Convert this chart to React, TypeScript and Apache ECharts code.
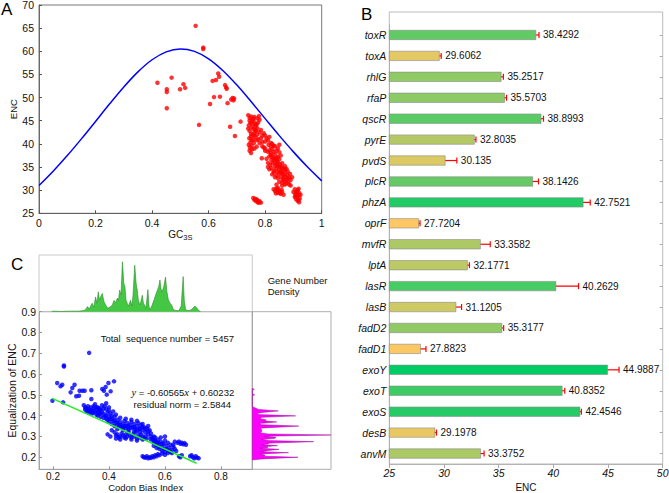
import React, { useEffect, useRef } from 'react';
import * as echarts from 'echarts';

const FONT = 'Liberation Sans, Arial, Helvetica, sans-serif';

// ---------- Panel A ----------
const curveGC3s = [0, 0.05, 0.1, 0.15, 0.2, 0.25, 0.3, 0.35, 0.4, 0.45, 0.5, 0.55, 0.6, 0.65, 0.7, 0.75, 0.8, 0.85, 0.9, 0.95, 1];
const curveENC = [31, 34.09, 37.47, 41.08, 44.85, 48.65, 52.3, 55.56, 58.17, 59.88, 60.5, 59.98, 58.37, 55.86, 52.7, 49.15, 45.45, 41.78, 38.27, 34.99, 32];

const gc3sEncPoints = [
  [0.419, 53.2], [0.469, 54.3], [0.452, 51.8], [0.452, 51.2], [0.452, 47.7], [0.499, 51.8], [0.511, 52.9], [0.517, 52.1],
  [0.554, 65.5], [0.566, 44.1], [0.581, 60.8], [0.581, 60.5], [0.605, 48.6], [0.614, 53.6], [0.626, 53.8], [0.619, 50.1],
  [0.634, 55.2], [0.637, 54.5], [0.64, 50.2], [0.658, 52.7], [0.662, 52.2], [0.664, 51.9], [0.667, 48.8], [0.676, 43.7],
  [0.68, 49.6], [0.685, 49.9], [0.688, 49.4], [0.69, 49.8], [0.693, 41.7], [0.713, 44.8],
  [0.74, 46.2], [0.745, 45.6], [0.75, 45.9], [0.755, 45.1], [0.76, 44.8], [0.748, 44.5], [0.742, 44.0], [0.752, 43.6],
  [0.758, 43.2], [0.765, 43.8], [0.77, 44.2], [0.775, 44.6], [0.78, 45.2], [0.778, 46.0], [0.772, 45.5], [0.768, 42.8],
  [0.762, 42.4], [0.756, 42.0], [0.75, 41.6], [0.745, 42.8], [0.74, 43.3], [0.772, 42.0], [0.78, 42.5], [0.785, 43.0],
  [0.79, 41.8], [0.785, 41.2], [0.776, 41.0], [0.766, 41.5], [0.758, 40.9], [0.748, 40.3], [0.742, 39.8], [0.746, 39.2],
  [0.752, 39.6], [0.76, 40.2], [0.754, 38.8], [0.762, 39.0], [0.77, 39.4], [0.745, 38.5], [0.75, 38.0], [0.788, 36.9],
  [0.795, 42.3], [0.8, 41.8], [0.805, 41.2], [0.81, 40.8], [0.815, 41.5], [0.82, 40.2], [0.8, 40.5], [0.812, 39.8],
  [0.825, 40.0], [0.79, 40.4], [0.83, 39.6],
  [0.815, 38.6], [0.82, 38.0], [0.825, 38.9], [0.83, 38.3], [0.835, 37.7], [0.84, 38.5], [0.845, 39.0], [0.85, 38.2],
  [0.845, 37.2], [0.838, 36.8], [0.83, 37.0], [0.822, 36.5], [0.815, 37.3], [0.81, 35.9], [0.818, 35.5], [0.826, 35.8],
  [0.834, 36.0], [0.842, 36.3], [0.85, 36.7], [0.855, 37.5], [0.82, 39.4], [0.835, 39.5], [0.85, 39.8], [0.805, 36.8],
  [0.81, 35.0], [0.815, 34.5], [0.822, 34.8], [0.83, 34.2], [0.838, 34.6], [0.845, 35.2], [0.852, 35.6], [0.858, 35.0],
  [0.865, 34.3], [0.87, 33.8], [0.862, 33.5], [0.855, 34.0], [0.848, 33.6], [0.84, 33.2], [0.835, 32.8], [0.845, 32.6],
  [0.855, 32.9], [0.865, 32.5], [0.872, 32.9], [0.878, 33.3], [0.885, 32.7], [0.89, 32.2], [0.882, 31.8], [0.875, 31.5],
  [0.868, 31.9], [0.86, 31.6], [0.85, 31.8], [0.83, 33.8], [0.825, 33.4], [0.86, 35.8], [0.87, 35.2], [0.876, 34.6],
  [0.88, 34.0], [0.87, 34.6], [0.842, 34.0], [0.85, 34.4], [0.895, 32.8], [0.888, 33.5], [0.86, 31.0], [0.84, 31.2],
  [0.83, 30.2], [0.835, 29.8], [0.84, 30.4], [0.845, 29.5], [0.85, 29.9], [0.855, 29.2], [0.86, 29.6], [0.865, 29.0],
  [0.845, 30.5], [0.858, 30.1], [0.838, 29.3],
  [0.905, 30.2], [0.91, 29.7], [0.915, 30.0], [0.92, 29.4], [0.908, 29.1], [0.912, 28.6], [0.918, 28.9], [0.922, 28.2],
  [0.91, 28.0], [0.915, 27.7], [0.92, 27.4], [0.905, 28.5], [0.925, 29.0], [0.9, 29.6], [0.918, 30.3],
  [0.758, 28.3], [0.762, 27.9], [0.768, 27.6], [0.772, 27.8], [0.778, 27.4], [0.785, 27.3], [0.765, 28.1], [0.775, 27.3],
  [0.745, 45.0], [0.755, 44.3], [0.765, 43.0], [0.75, 42.2], [0.76, 41.8], [0.77, 40.8], [0.78, 40.2], [0.79, 39.5],
  [0.8, 39.0], [0.81, 38.3], [0.82, 37.6], [0.83, 36.5], [0.84, 35.5], [0.85, 35.0], [0.86, 34.8], [0.865, 33.2],
  [0.875, 32.2], [0.88, 32.6], [0.885, 31.2], [0.89, 31.0], [0.84, 36.9], [0.825, 37.2], [0.835, 35.2], [0.845, 36.0],
  [0.855, 33.8], [0.862, 32.3], [0.87, 31.2], [0.8, 38.5], [0.795, 39.2], [0.758, 45.5], [0.766, 44.2], [0.762, 45.8],
  [0.772, 43.4], [0.752, 40.8], [0.744, 41.2], [0.912, 29.4], [0.907, 28.8], [0.918, 27.9], [0.85, 29.4], [0.843, 30.0],
  [0.77, 28.0], [0.78, 27.6],
];

// ---------- Panel B ----------
const genes = ['toxR', 'toxA', 'rhlG', 'rfaP', 'qscR', 'pyrE', 'pvdS', 'plcR', 'phzA', 'oprF', 'mvfR', 'lptA', 'lasR', 'lasB', 'fadD2', 'fadD1', 'exoY', 'exoT', 'exoS', 'desB', 'anvM'];
const encValues = [38.4292, 29.6062, 35.2517, 35.5703, 38.8993, 32.8035, 30.135, 38.1426, 42.7521, 27.7204, 33.3582, 32.1771, 40.2629, 31.1205, 35.3177, 27.8823, 44.9887, 40.8352, 42.4546, 29.1978, 33.3752];
const encErr = [0.26, 0.14, 0.18, 0.15, 0.2, 0.12, 1.04, 0.5, 0.62, 0.09, 0.87, 0.15, 2.04, 0.49, 0.14, 0.47, 1.02, 0.21, 0.11, 0.12, 0.29];

// ---------- Panel C ----------
const cbiEncPoints = [
  [0.329, 0.702], [0.239, 0.641], [0.239, 0.636], [0.198, 0.472], [0.215, 0.557], [0.227, 0.541], [0.233, 0.549], [0.236, 0.464],
  [0.263, 0.512], [0.269, 0.533], [0.277, 0.549], [0.283, 0.493], [0.293, 0.496], [0.295, 0.52], [0.305, 0.52], [0.313, 0.52],
  [0.337, 0.522], [0.337, 0.48], [0.376, 0.528], [0.382, 0.52], [0.388, 0.538], [0.398, 0.557], [0.418, 0.565], [0.392, 0.501], [0.406, 0.517],
  [0.31, 0.45], [0.315, 0.44], [0.32, 0.435], [0.325, 0.445], [0.33, 0.43], [0.335, 0.44], [0.34, 0.425], [0.345, 0.435],
  [0.35, 0.42], [0.355, 0.43], [0.36, 0.415], [0.365, 0.425], [0.37, 0.41], [0.375, 0.42], [0.38, 0.435], [0.385, 0.445],
  [0.39, 0.43], [0.395, 0.415], [0.4, 0.425], [0.405, 0.41], [0.41, 0.4], [0.415, 0.42], [0.42, 0.395], [0.425, 0.405],
  [0.34, 0.41], [0.355, 0.405], [0.37, 0.395], [0.385, 0.4], [0.32, 0.42], [0.36, 0.44], [0.375, 0.45], [0.39, 0.46],
  [0.33, 0.415], [0.4, 0.44], [0.35, 0.455],
  [0.395, 0.38], [0.4, 0.37], [0.405, 0.385], [0.41, 0.36], [0.415, 0.375], [0.42, 0.35], [0.425, 0.365], [0.43, 0.38],
  [0.435, 0.355], [0.44, 0.37], [0.445, 0.345], [0.45, 0.36], [0.455, 0.375], [0.46, 0.35], [0.465, 0.365], [0.47, 0.34],
  [0.475, 0.355], [0.48, 0.37], [0.485, 0.345], [0.49, 0.36], [0.495, 0.335], [0.5, 0.35], [0.505, 0.365], [0.51, 0.34],
  [0.515, 0.355], [0.52, 0.33], [0.525, 0.345], [0.53, 0.32], [0.535, 0.34], [0.54, 0.31], [0.42, 0.32], [0.425, 0.305],
  [0.43, 0.31], [0.435, 0.295], [0.44, 0.3], [0.445, 0.315], [0.45, 0.305], [0.455, 0.295], [0.46, 0.31], [0.465, 0.3],
  [0.47, 0.32], [0.475, 0.305], [0.48, 0.295], [0.485, 0.31], [0.49, 0.3], [0.495, 0.32], [0.5, 0.29], [0.505, 0.305],
  [0.51, 0.295], [0.515, 0.31], [0.52, 0.3], [0.525, 0.29], [0.53, 0.3], [0.41, 0.33], [0.43, 0.335], [0.45, 0.33],
  [0.47, 0.33], [0.49, 0.325], [0.51, 0.32], [0.44, 0.39], [0.46, 0.385], [0.48, 0.38], [0.5, 0.375], [0.52, 0.36],
  [0.54, 0.35], [0.545, 0.33], [0.395, 0.31], [0.405, 0.3], [0.55, 0.3],
  [0.555, 0.29], [0.56, 0.28], [0.565, 0.295], [0.57, 0.27], [0.575, 0.285], [0.58, 0.26], [0.585, 0.275], [0.59, 0.25],
  [0.595, 0.265], [0.6, 0.28], [0.605, 0.255], [0.61, 0.27], [0.615, 0.245], [0.62, 0.26], [0.625, 0.235], [0.63, 0.25],
  [0.635, 0.24], [0.58, 0.24], [0.59, 0.23], [0.6, 0.225], [0.61, 0.235], [0.62, 0.225], [0.57, 0.245], [0.56, 0.255],
  [0.6, 0.3], [0.585, 0.295], [0.64, 0.23],
  [0.635, 0.275], [0.645, 0.27], [0.65, 0.275], [0.655, 0.265], [0.66, 0.27], [0.665, 0.262], [0.67, 0.268], [0.675, 0.26],
  [0.52, 0.205], [0.525, 0.2], [0.53, 0.198], [0.535, 0.205], [0.54, 0.195], [0.545, 0.2], [0.55, 0.197], [0.555, 0.205],
  [0.56, 0.2], [0.565, 0.21], [0.57, 0.205],
  [0.575, 0.215], [0.58, 0.21], [0.59, 0.218], [0.6, 0.212], [0.61, 0.22],
  [0.65, 0.205], [0.655, 0.2], [0.66, 0.21], [0.69, 0.205], [0.7, 0.2], [0.705, 0.195], [0.71, 0.205], [0.715, 0.198],
  [0.72, 0.195], [0.695, 0.21],
  [0.315, 0.43], [0.325, 0.425], [0.335, 0.42], [0.345, 0.415], [0.36, 0.4], [0.365, 0.41], [0.38, 0.39], [0.39, 0.385],
  [0.4, 0.395], [0.41, 0.385], [0.42, 0.375], [0.43, 0.365], [0.435, 0.345], [0.44, 0.355], [0.45, 0.345], [0.455, 0.35],
  [0.46, 0.34], [0.47, 0.35], [0.48, 0.34], [0.49, 0.345], [0.5, 0.33], [0.51, 0.335], [0.52, 0.345], [0.53, 0.335],
  [0.54, 0.325], [0.425, 0.29], [0.44, 0.285], [0.46, 0.29], [0.48, 0.285], [0.5, 0.28], [0.52, 0.285], [0.535, 0.29],
  [0.55, 0.285], [0.56, 0.27], [0.57, 0.26], [0.58, 0.25], [0.595, 0.24], [0.605, 0.24], [0.615, 0.23], [0.625, 0.22],
  [0.63, 0.26], [0.55, 0.315], [0.56, 0.3], [0.565, 0.28], [0.575, 0.27], [0.59, 0.265], [0.345, 0.445], [0.355, 0.44],
  [0.365, 0.435], [0.37, 0.43], [0.38, 0.41], [0.39, 0.4],
];
const fitLineX = [0.197, 0.713];
const fitLineY = [0.483, 0.171];

const cbiDensity = [
  [0.195, 0], [0.2, 0.01], [0.23, 0.005], [0.26, 0.01], [0.29, 0.01], [0.31, 0.02], [0.317, 0.04], [0.323, 0.09],
  [0.33, 0.05], [0.34, 0.15], [0.346, 0.08], [0.352, 0.26], [0.357, 0.15], [0.362, 0.35], [0.366, 0.2], [0.37, 0.26],
  [0.376, 0.32], [0.382, 0.18], [0.388, 0.12], [0.396, 0.06], [0.406, 0.09], [0.412, 0.12], [0.418, 0.2], [0.424, 0.16],
  [0.43, 0.24], [0.434, 0.2], [0.438, 0.38], [0.443, 0.3], [0.448, 0.88], [0.453, 0.5], [0.457, 0.44], [0.461, 0.2],
  [0.465, 0.15], [0.47, 0.1], [0.477, 0.2], [0.482, 0.1], [0.486, 0.3], [0.492, 0.82], [0.497, 0.5], [0.501, 0.38],
  [0.505, 0.2], [0.51, 0.12], [0.514, 0.18], [0.519, 0.29], [0.523, 0.15], [0.527, 0.12], [0.532, 0.06], [0.539, 0.39],
  [0.543, 0.1], [0.546, 0.03], [0.553, 0.1], [0.561, 0.21], [0.567, 0.3], [0.573, 0.38], [0.578, 0.45], [0.582, 0.56],
  [0.586, 0.4], [0.59, 0.35], [0.596, 0.45], [0.602, 0.61], [0.607, 0.35], [0.612, 0.21], [0.618, 0.15], [0.624, 0.12],
  [0.628, 0.06], [0.632, 0.03], [0.64, 0.02], [0.65, 0.02], [0.658, 0.1], [0.665, 0.62], [0.669, 0.2], [0.674, 0.03],
  [0.685, 0.02], [0.692, 0.03], [0.7, 0.06], [0.707, 0.1], [0.713, 0.07], [0.719, 0.03], [0.727, 0],
];

// [ENC equalization, relative density]
const encDensity = [
  [0.187, 0], [0.192, 0.12], [0.2, 0.58], [0.205, 0.15], [0.211, 0.16], [0.216, 0.1], [0.222, 0.46], [0.227, 0.12],
  [0.232, 0.2], [0.238, 0.34], [0.243, 0.1], [0.247, 0.2], [0.251, 0.16], [0.256, 0.32], [0.26, 0.12], [0.264, 0.2],
  [0.268, 0.22], [0.275, 0.78], [0.28, 0.2], [0.285, 0.12], [0.291, 0.29], [0.296, 0.3], [0.301, 0.15], [0.307, 1.0],
  [0.312, 0.2], [0.318, 0.1], [0.324, 0.12], [0.332, 0.12], [0.34, 0.1], [0.35, 0.59], [0.356, 0.12], [0.362, 0.08],
  [0.37, 0.31], [0.375, 0.14], [0.379, 0.18], [0.385, 0.1], [0.392, 0.12], [0.399, 0.55], [0.405, 0.08], [0.41, 0.06],
  [0.415, 0.12], [0.423, 0.33], [0.43, 0.08], [0.437, 0.04], [0.443, 0], [0.496, 0], [0.5, 0.03], [0.504, 0],
  [0.523, 0], [0.527, 0.025], [0.531, 0],
];

const cTicksX = [0.2, 0.4, 0.6, 0.8];
const cTicksY = [0.2, 0.3, 0.4, 0.5, 0.6, 0.7, 0.8, 0.9];

const hidden = {
  axisLine: { show: false },
  axisTick: { show: false },
  axisLabel: { show: false },
  splitLine: { show: false },
};

export default function App() {
  const ref = useRef<HTMLDivElement>(null);

  useEffect(() => {
    if (!ref.current) return;
    const chart = echarts.init(ref.current, null, { renderer: 'svg', width: 669, height: 493 });

    const lbl = (extra: any = {}) => ({ fontFamily: FONT, color: '#111', fontSize: 10.5, ...extra });

    const option: any = {
      animation: false,
      backgroundColor: '#ffffff',
      textStyle: { fontFamily: FONT },
      grid: [
        { left: 39, top: 5, width: 282.7, height: 208.3, show: true, borderColor: '#555', borderWidth: 0.8, backgroundColor: 'transparent', outerBoundsMode: 'none' },
        { left: 389.3, top: 12, width: 273.4, height: 452, show: true, borderColor: '#aaa', borderWidth: 0.8, backgroundColor: 'transparent', outerBoundsMode: 'none' },
        { left: 389.3, top: 24.5, width: 273.4, height: 439.5, outerBoundsMode: 'none' },
        { left: 39, top: 311.7, width: 213.3, height: 157.6, show: true, borderColor: '#999', borderWidth: 0.8, backgroundColor: 'transparent', outerBoundsMode: 'none' },
        { left: 39, top: 255, width: 213.3, height: 56.7, show: true, borderColor: '#bbb', borderWidth: 0.8, backgroundColor: 'transparent', outerBoundsMode: 'none' },
        { left: 252.3, top: 311.7, width: 78.7, height: 157.6, show: true, borderColor: '#999', borderWidth: 0.8, backgroundColor: 'transparent', outerBoundsMode: 'none' },
      ],
      xAxis: [
        {
          gridIndex: 0, type: 'value', min: 0, max: 1, interval: 0.2,
          axisLine: { show: true, lineStyle: { color: '#555', width: 0.8 } },
          axisTick: { inside: true, length: 3, lineStyle: { color: '#555' } },
          axisLabel: lbl({ margin: 4 }),
          splitLine: { show: false },
          name: '{a|GC}{b|3S}', nameLocation: 'middle', nameGap: 11,
          nameTextStyle: {
            rich: {
              a: { fontFamily: FONT, fontSize: 10, color: '#111' },
              b: { fontFamily: FONT, fontSize: 7.5, color: '#111', padding: [6, 0, 0, 0] },
            },
          },
        },
        {
          gridIndex: 1, type: 'value', min: 25, max: 50, interval: 5, position: 'top',
          axisLine: { show: false },
          axisTick: { inside: true, length: 4, lineStyle: { color: '#aaa' } },
          axisLabel: { show: false },
          splitLine: { show: false },
        },
        {
          gridIndex: 2, type: 'value', min: 25, max: 50, interval: 5,
          axisLine: { show: true, lineStyle: { color: '#aaa', width: 0.8 } },
          axisTick: { inside: true, length: 3, lineStyle: { color: '#aaa' } },
          axisLabel: lbl({ fontStyle: 'italic', margin: 3 }),
          splitLine: { show: false },
          name: 'ENC', nameLocation: 'middle', nameGap: 16,
          nameTextStyle: lbl({ fontSize: 10 }),
        },
        {
          gridIndex: 3, type: 'value', min: 0.15, max: 0.912,
          axisLine: { show: true, lineStyle: { color: '#999', width: 0.8 } },
          axisTick: { inside: true, length: 3, customValues: cTicksX, lineStyle: { color: '#999' } },
          axisLabel: lbl({ margin: 2, fontSize: 10, customValues: cTicksX, formatter: (v: number) => v.toFixed(1) }),
          splitLine: { show: false },
          name: 'Codon Bias Index', nameLocation: 'middle', nameGap: 10,
          nameTextStyle: lbl({ fontSize: 9.5 }),
        },
        { gridIndex: 4, type: 'value', min: 0.15, max: 0.912, ...hidden },
        { gridIndex: 5, type: 'value', min: 0, max: 1, ...hidden },
      ],
      yAxis: [
        {
          gridIndex: 0, type: 'value', min: 25, max: 70, interval: 5,
          axisLine: { show: true, lineStyle: { color: '#555', width: 0.8 } },
          axisTick: { inside: true, length: 3, lineStyle: { color: '#555' } },
          axisLabel: lbl({ margin: 5 }),
          splitLine: { show: false },
          name: 'ENC', nameLocation: 'middle', nameGap: 21, nameRotate: 90,
          nameTextStyle: lbl({ fontSize: 9.5 }),
        },
        { gridIndex: 1, type: 'value', min: 0, max: 1, ...hidden },
        {
          gridIndex: 2, type: 'category', data: genes, inverse: true,
          axisLine: { show: true, lineStyle: { color: '#aaa', width: 0.8 } },
          axisTick: { show: false },
          axisLabel: lbl({ fontStyle: 'italic', margin: 3 }),
          splitLine: { show: false },
        },
        {
          gridIndex: 2, type: 'category', data: genes, inverse: true, position: 'right',
          axisLine: { show: false },
          axisTick: { show: true, inside: true, alignWithLabel: true, length: 3, lineStyle: { color: '#aaa' } },
          axisLabel: { show: false },
          splitLine: { show: false },
        },
        {
          gridIndex: 3, type: 'value', min: 0.142, max: 0.9,
          axisLine: { show: true, lineStyle: { color: '#999', width: 0.8 } },
          axisTick: { inside: true, length: 3, customValues: cTicksY, lineStyle: { color: '#999' } },
          axisLabel: lbl({ margin: 3, customValues: cTicksY, formatter: (v: number) => v.toFixed(1) }),
          splitLine: { show: false },
          name: 'Equalization of ENC', nameLocation: 'middle', nameGap: 20, nameRotate: 90,
          nameTextStyle: lbl({ fontSize: 10.5 }),
        },
        { gridIndex: 4, type: 'value', min: 0, max: 1, ...hidden },
        { gridIndex: 5, type: 'value', min: 0.142, max: 0.9, ...hidden },
      ],
      visualMap: {
        show: false,
        type: 'continuous',
        seriesIndex: 2,
        dimension: 0,
        min: 27.7,
        max: 45,
        inRange: { color: ['#ffc864', '#00cc66'] },
      },
      series: [
        {
          type: 'line', xAxisIndex: 0, yAxisIndex: 0,
          data: curveGC3s.map((x, i) => [x, curveENC[i]]),
          smooth: 0.35, symbol: 'none',
          lineStyle: { color: '#0000ff', width: 1.5 },
        },
        {
          type: 'scatter', xAxisIndex: 0, yAxisIndex: 0,
          data: gc3sEncPoints, symbolSize: 4.5,
          itemStyle: { color: '#ff0000' },
        },
        {
          type: 'bar', xAxisIndex: 2, yAxisIndex: 2,
          data: encValues.map((v, i) => [v, genes[i]]),
          barWidth: 10,
          itemStyle: { borderColor: '#8c8c8c', borderWidth: 0.6 },
        },
        {
          type: 'custom', xAxisIndex: 2, yAxisIndex: 2,
          data: encValues.map((v, i) => [v, i, v - encErr[i], v + encErr[i]]),
          encode: { x: [2, 3], y: 1 },
          clip: false,
          renderItem: (params: any, api: any) => {
            const v = api.value(0);
            const c = api.value(1);
            const lo = api.coord([api.value(2), c]);
            const hi = api.coord([api.value(3), c]);
            const h = 3;
            const st = { stroke: '#ff0000', lineWidth: 1.2 };
            return {
              type: 'group',
              children: [
                { type: 'line', shape: { x1: lo[0], y1: lo[1], x2: hi[0], y2: hi[1] }, style: st },
                { type: 'line', shape: { x1: lo[0], y1: lo[1] - h, x2: lo[0], y2: lo[1] + h }, style: st },
                { type: 'line', shape: { x1: hi[0], y1: hi[1] - h, x2: hi[0], y2: hi[1] + h }, style: st },
                {
                  type: 'text', x: hi[0] + 4, y: hi[1],
                  style: { text: String(v), fontSize: 10, fontFamily: FONT, fill: '#111', align: 'left', verticalAlign: 'middle' },
                },
              ],
            };
          },
        },
        {
          type: 'scatter', xAxisIndex: 3, yAxisIndex: 4,
          data: cbiEncPoints, symbolSize: 4.5,
          itemStyle: { color: '#0000ff' },
        },
        {
          type: 'line', xAxisIndex: 3, yAxisIndex: 4,
          data: fitLineX.map((x, i) => [x, fitLineY[i]]),
          symbol: 'none',
          lineStyle: { color: '#22ee22', width: 1.5 },
        },
        {
          type: 'line', xAxisIndex: 4, yAxisIndex: 5,
          data: cbiDensity, symbol: 'none',
          lineStyle: { color: '#2e8b2e', width: 0.6 },
          areaStyle: { color: '#44c844', opacity: 1 },
        },
        {
          type: 'custom', xAxisIndex: 5, yAxisIndex: 6,
          data: [[0, 0.3]],
          clip: false,
          renderItem: (params: any, api: any) => {
            const pts = encDensity.map(([y, l]) => api.coord([l, y]));
            return {
              type: 'polygon',
              shape: { points: pts },
              style: { fill: '#ff00ff', stroke: '#a000a0', lineWidth: 0.5 },
            };
          },
        },
      ],
      graphic: [
        { type: 'text', left: 1, top: 1, style: { text: 'A', fontSize: 17, fontFamily: FONT, fill: '#000' } },
        { type: 'text', left: 361, top: 6, style: { text: 'B', fontSize: 17, fontFamily: FONT, fill: '#000' } },
        { type: 'text', left: 11, top: 256, style: { text: 'C', fontSize: 17, fontFamily: FONT, fill: '#000' } },
        {
          type: 'text', x: 167.3, y: 338.3,
          style: { text: 'Total  sequence number = 5457', fontSize: 9.5, fontFamily: FONT, fill: '#111', align: 'center', verticalAlign: 'middle' },
        },
        {
          type: 'text', x: 182.8, y: 392.3,
          style: {
            text: '{i|y} = -0.60565{i|x} + 0.60232',
            fontSize: 9.5, fontFamily: FONT, fill: '#111', align: 'center', verticalAlign: 'middle',
            rich: { i: { fontFamily: 'Liberation Serif, Times New Roman, serif', fontStyle: 'italic', fontSize: 10.5, fill: '#111' } },
          },
        },
        {
          type: 'text', x: 182.3, y: 404,
          style: { text: 'residual norm = 2.5844', fontSize: 9.5, fontFamily: FONT, fill: '#111', align: 'center', verticalAlign: 'middle' },
        },
        {
          type: 'text', x: 267.7, y: 286.3,
          style: { text: 'Gene Number\nDensity', fontSize: 9.5, lineHeight: 10.7, fontFamily: FONT, fill: '#111', align: 'left', verticalAlign: 'middle' },
        },
      ],
    };

    chart.setOption(option);
    return () => chart.dispose();
  }, []);

  return (
    <div
      ref={ref}
      style={{ position: 'absolute', left: 0, top: 0, width: 669, height: 493, background: '#fff' }}
    />
  );
}
